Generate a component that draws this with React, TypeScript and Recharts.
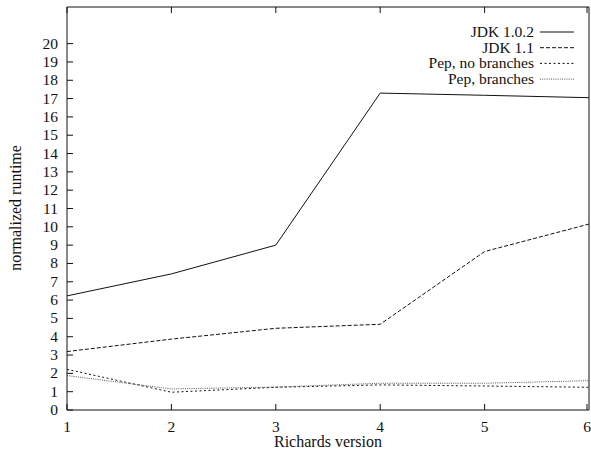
import { LineChart, Line, XAxis, YAxis, Legend, Label } from 'recharts';

const versions = [1, 2, 3, 4, 5, 6];
const seriesNames = ['JDK 1.0.2', 'JDK 1.1', 'Pep, no branches', 'Pep, branches'];
const jdk102 = [6.23, 7.43, 9.0, 17.3, 17.18, 17.05];
const jdk11 = [3.19, 3.87, 4.46, 4.68, 8.65, 10.15];
const pepNoBranches = [2.22, 0.97, 1.24, 1.37, 1.31, 1.24];
const pepBranches = [1.88, 1.15, 1.25, 1.46, 1.46, 1.6];
const yTicks = [0, 1, 2, 3, 4, 5, 6, 7, 8, 9, 10, 11, 12, 13, 14, 15, 16, 17, 18, 19, 20];

const INK = '#111';
const SERIF = 'Liberation Serif';

const data = versions.map((v, i) => ({
    version: v,
    jdk102: jdk102[i],
    jdk11: jdk11[i],
    pepNo: pepNoBranches[i],
    pepYes: pepBranches[i],
}));

// gnuplot style: ticks point inward, labels outside
function LeftTick({ x, y, payload }: any) {
    return (
        <g>
            <line x1={x} x2={x + 6} y1={y} y2={y} stroke={INK} />
            <text x={x - 9} y={y} dy={5} textAnchor="end" fill={INK} fontFamily={SERIF} fontSize={15.5}>
                {payload.value}
            </text>
        </g>
    );
}

function RightTick({ x, y }: any) {
    return <line x1={x} x2={x - 6} y1={y} y2={y} stroke={INK} />;
}

function BottomTick({ x, y, payload }: any) {
    return (
        <g>
            <line x1={x} x2={x} y1={y} y2={y - 6} stroke={INK} />
            <text x={x} y={y + 22} textAnchor="middle" fill={INK} fontFamily={SERIF} fontSize={15.5}>
                {payload.value}
            </text>
        </g>
    );
}

function TopTick({ x, y }: any) {
    return <line x1={x} x2={x} y1={y} y2={y + 6} stroke={INK} />;
}

function KeyBox({ payload }: any) {
    const items = [...(payload || [])].sort(
        (a: any, b: any) => seriesNames.indexOf(a.value) - seriesNames.indexOf(b.value)
    );
    return (
        <svg width={591} height={100} style={{ fontFamily: SERIF }}>
            {items.map((entry: any, i: number) => {
                const cy = 32 + i * 15.7;
                return (
                    <g key={entry.value}>
                        <text x={534} y={cy} dy={5} textAnchor="end" fill={INK} fontFamily={SERIF} fontSize={15.5}>
                            {entry.value}
                        </text>
                        <line
                            x1={540}
                            x2={574}
                            y1={cy}
                            y2={cy}
                            stroke={entry.color}
                            strokeDasharray={entry.payload?.strokeDasharray}
                        />
                    </g>
                );
            })}
        </svg>
    );
}

export default function App() {
    return (
        <div style={{ position: 'absolute', left: 0, top: 0, background: '#fff', fontFamily: SERIF }}>
            <LineChart
                width={591}
                height={450}
                data={data}
                margin={{ top: 0, right: 0, bottom: 0, left: 0 }}
                style={{ fontFamily: SERIF }}
            >
                <XAxis
                    dataKey="version"
                    type="number"
                    domain={[1, 6]}
                    ticks={versions}
                    height={40}
                    tickSize={0}
                    tickMargin={0}
                    tick={<BottomTick />}
                    axisLine={{ stroke: INK }}
                    tickLine={false}
                >
                    <Label
                        content={() => (
                            <text x={328} y={447} textAnchor="middle" fill={INK} fontFamily={SERIF} fontSize={16}>
                                Richards version
                            </text>
                        )}
                    />
                </XAxis>
                <XAxis
                    xAxisId="top"
                    dataKey="version"
                    type="number"
                    orientation="top"
                    domain={[1, 6]}
                    ticks={versions}
                    height={7}
                    tickSize={0}
                    tickMargin={0}
                    tick={<TopTick />}
                    axisLine={{ stroke: INK }}
                    tickLine={false}
                />
                <YAxis
                    type="number"
                    domain={[0, 22]}
                    ticks={yTicks}
                    width={67}
                    tickSize={0}
                    tickMargin={0}
                    tick={<LeftTick />}
                    axisLine={{ stroke: INK }}
                    tickLine={false}
                    interval={0}
                >
                    <Label
                        content={() => (
                            <text
                                x={15}
                                y={208}
                                transform="rotate(-90, 15, 208)"
                                textAnchor="middle"
                                dominantBaseline="central"
                                fill={INK}
                                fontFamily={SERIF}
                                fontSize={16}
                            >
                                normalized runtime
                            </text>
                        )}
                    />
                </YAxis>
                <YAxis
                    yAxisId="right"
                    orientation="right"
                    type="number"
                    domain={[0, 22]}
                    ticks={yTicks}
                    width={2}
                    tickSize={0}
                    tickMargin={0}
                    tick={<RightTick />}
                    axisLine={{ stroke: INK }}
                    tickLine={false}
                    interval={0}
                />
                <Legend
                    layout="horizontal"
                    verticalAlign="middle"
                    align="center"
                    content={<KeyBox />}
                    wrapperStyle={{ top: 0, left: 0, width: 591, height: 100 }}
                />
                <Line name={seriesNames[0]} dataKey="jdk102" stroke={INK} strokeWidth={1} dot={false} isAnimationActive={false} />
                <Line name={seriesNames[1]} dataKey="jdk11" stroke={INK} strokeWidth={1} strokeDasharray="4 2" dot={false} isAnimationActive={false} />
                <Line name={seriesNames[2]} dataKey="pepNo" stroke={INK} strokeWidth={1} strokeDasharray="2 2.5" dot={false} isAnimationActive={false} />
                <Line name={seriesNames[3]} dataKey="pepYes" stroke="#555" strokeWidth={1} strokeDasharray="1 1.2" dot={false} isAnimationActive={false} />
            </LineChart>
        </div>
    );
}
